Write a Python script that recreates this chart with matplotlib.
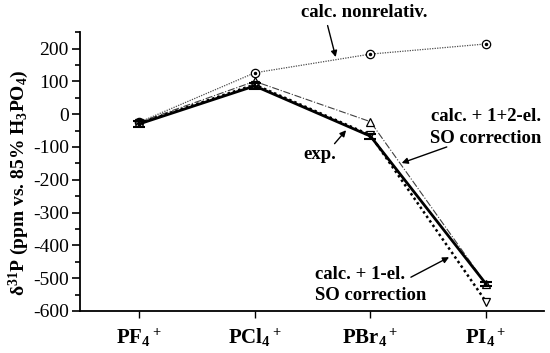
import matplotlib
matplotlib.use('Agg')
import matplotlib.pyplot as plt
from matplotlib.ticker import MultipleLocator

plt.rcParams['font.family'] = 'Liberation Serif'
plt.rcParams['mathtext.default'] = 'regular'
plt.rcParams['axes.unicode_minus'] = False

# Data (ppm vs. 85% H3PO4)
compounds = ['PF$_4$$^+$', 'PCl$_4$$^+$', 'PBr$_4$$^+$', 'PI$_4$$^+$']
nonrel = [-25, 126, 183, 214]
exp_vals = [-30, 86, -67, -518]
exp_err = [8, 8, 8, 6]
so_12el = [-25, 100, -23, -518]
so_1el = [-28, 90, -64, -572]

x = list(range(len(compounds)))

fig = plt.figure(figsize=(5.5, 3.53), dpi=100)
ax = fig.add_axes([0.1455, 0.119, 0.8435, 0.79])

# calc. nonrelativ.
ax.plot(x, nonrel, linestyle=(0, (1, 1)), color='0.3', lw=0.9,
        marker='o', ms=6, mfc='white', mec='black', mew=0.9)
ax.plot(x, nonrel, linestyle='none', marker='o', ms=1.5, color='black')
# calc. + 1+2-el. SO correction
ax.plot(x, so_12el, linestyle='-.', color='0.25', lw=0.8,
        marker='^', ms=6, mfc='white', mec='black', mew=0.9)
# calc. + 1-el. SO correction
ax.plot(x, so_1el, linestyle=(0, (1, 1.2)), color='black', lw=1.8,
        marker='v', ms=6, mfc='white', mec='black', mew=0.9)
# exp.
ax.errorbar(x, exp_vals, yerr=exp_err, color='black', lw=2.0,
            capsize=4, capthick=1.5, elinewidth=1.5)

ax.set_xlim(-0.51, 3.5)
ax.set_ylim(-600, 250)
ax.set_xticks(x)
ax.set_xticklabels(compounds, fontsize=15, fontweight='bold')
ax.yaxis.set_major_locator(MultipleLocator(100))
ax.yaxis.set_minor_locator(MultipleLocator(50))
ax.tick_params(axis='y', which='major', length=6, width=1.2, labelsize=14, pad=2)
ax.tick_params(axis='y', which='minor', length=3.5, width=1.2)
ax.tick_params(axis='x', length=5, width=1.0, pad=6)
for s in ['top', 'right']:
    ax.spines[s].set_visible(False)
ax.spines['left'].set_linewidth(1.3)
ax.spines['bottom'].set_linewidth(1.3)

ax.set_ylabel('$\\delta^{31}$P (ppm vs. 85% H$_3$PO$_4$)',
              fontsize=14, fontweight='bold')
ax.yaxis.set_label_coords(-0.106, 0.46)

arrow = dict(arrowstyle='-|>', color='black', lw=1.0, mutation_scale=9,
             shrinkA=0, shrinkB=0)
ax.text(1.95, 311, 'calc. nonrelativ.', ha='center', va='center',
        fontsize=13.5, fontweight='bold', clip_on=False)
ax.annotate('', xy=(1.70, 174), xytext=(1.63, 270),
            arrowprops=arrow, annotation_clip=False)
ax.text(1.56, -122, 'exp.', ha='center', va='center',
        fontsize=13.5, fontweight='bold')
ax.annotate('', xy=(1.79, -49), xytext=(1.69, -90), arrowprops=arrow)
ax.text(3.0, -40, 'calc. + 1+2-el.\nSO correction', ha='center', va='center',
        fontsize=13.5, fontweight='bold', linespacing=1.35)
ax.annotate('', xy=(2.27, -149), xytext=(2.66, -100), arrowprops=arrow)
ax.text(1.517, -521, 'calc. + 1-el.\nSO correction', ha='left', va='center',
        fontsize=13.5, fontweight='bold', linespacing=1.35)
ax.annotate('', xy=(2.68, -436), xytext=(2.35, -497), arrowprops=arrow)

fig.savefig('out.png', dpi=100)
